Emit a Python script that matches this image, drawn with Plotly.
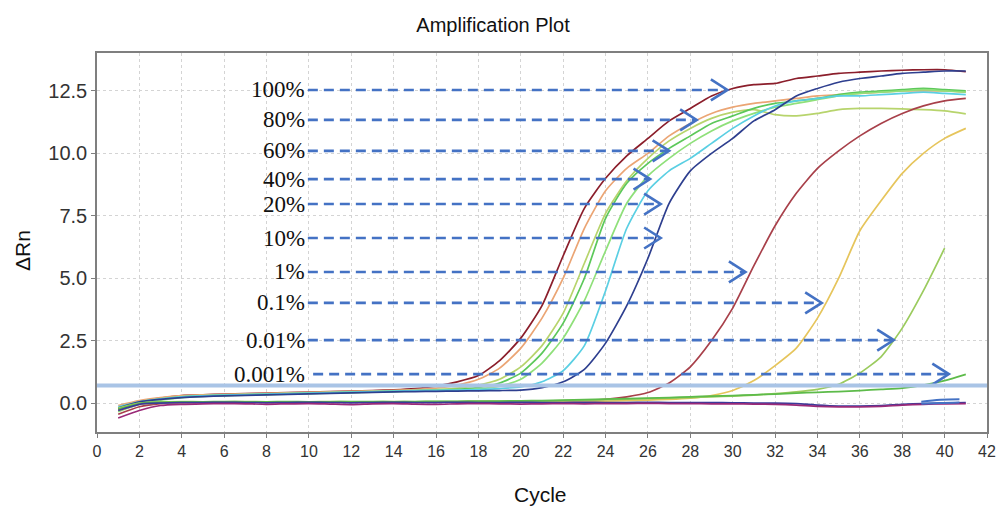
import plotly.graph_objects as go

# ---------------- data ----------------
cycles = list(range(1, 42))
cycles_40 = list(range(1, 41))

curve_100 = [-0.25, 0.05, 0.2, 0.3, 0.33, 0.36, 0.38, 0.4, 0.42, 0.44, 0.46, 0.48, 0.5, 0.53, 0.58, 0.68,
             0.85, 1.1, 1.7, 2.6, 3.9, 5.9, 7.8, 9.0, 9.9, 10.6, 11.3, 11.8, 12.3, 12.6, 12.75, 12.8,
             13.0, 13.1, 13.2, 13.25, 13.3, 13.33, 13.35, 13.35, 13.27]
curve_80 = [-0.1, 0.1, 0.22, 0.3, 0.33, 0.35, 0.37, 0.39, 0.41, 0.43, 0.45, 0.47, 0.49, 0.51, 0.54, 0.6,
            0.72, 0.95, 1.4, 2.2, 3.4, 5.0, 7.0, 8.5, 9.4, 10.0, 10.7, 11.2, 11.6, 11.85, 12.0, 12.1,
            12.2, 12.3, 12.35, 12.4, 12.45, 12.5, 12.5, 12.5, 12.45]
curve_60 = [-0.2, 0.05, 0.18, 0.26, 0.3, 0.33, 0.35, 0.37, 0.39, 0.41, 0.43, 0.45, 0.47, 0.49, 0.51, 0.54,
            0.6, 0.72, 0.95, 1.45, 2.3, 3.6, 5.6, 7.6, 8.9, 9.8, 10.5, 11.0, 11.4, 11.65, 11.75, 11.55,
            11.5, 11.6, 11.75, 11.8, 11.8, 11.78, 11.75, 11.7, 11.58]
curve_40 = [-0.3, 0.0, 0.15, 0.24, 0.28, 0.31, 0.33, 0.35, 0.37, 0.39, 0.41, 0.43, 0.45, 0.47, 0.49, 0.51,
            0.55, 0.62, 0.8, 1.2, 2.0, 3.2, 5.0, 7.4, 8.8, 9.6, 10.2, 10.7, 11.2, 11.5, 11.8, 12.0,
            12.1, 12.2, 12.35, 12.45, 12.5, 12.55, 12.6, 12.55, 12.5]
curve_20a = [-0.35, -0.05, 0.12, 0.22, 0.27, 0.3, 0.32, 0.34, 0.36, 0.38, 0.4, 0.42, 0.44, 0.46, 0.48, 0.5,
             0.52, 0.57, 0.68, 0.95, 1.6, 2.6, 4.1, 6.1, 8.0, 9.1, 9.8, 10.4, 10.9, 11.3, 11.6, 11.85,
             12.0, 12.15, 12.3, 12.4, 12.45, 12.5, 12.55, 12.5, 12.45]
curve_20b = [-0.15, 0.05, 0.17, 0.25, 0.29, 0.32, 0.34, 0.36, 0.38, 0.4, 0.42, 0.44, 0.46, 0.48, 0.5, 0.51,
             0.52, 0.54, 0.58, 0.65, 0.85, 1.3, 2.3, 4.5, 7.0, 8.5, 9.3, 9.8, 10.4, 11.0, 11.5, 11.9,
             12.1, 12.2, 12.3, 12.3, 12.35, 12.4, 12.45, 12.4, 12.35]
curve_10 = [-0.2, 0.05, 0.15, 0.22, 0.26, 0.29, 0.31, 0.33, 0.35, 0.37, 0.39, 0.41, 0.43, 0.45, 0.46, 0.47,
            0.48, 0.49, 0.5, 0.52, 0.62, 0.85, 1.35, 2.4, 3.9, 5.8, 8.0, 9.3, 10.0, 10.6, 11.3, 11.75,
            12.3, 12.6, 12.85, 13.0, 13.1, 13.2, 13.25, 13.3, 13.3]
curve_1 = [-0.45, -0.15, -0.02, 0.02, 0.03, 0.04, 0.04, 0.05, 0.04, 0.03, 0.04, 0.05, 0.04, 0.03, 0.04, 0.05,
           0.05, 0.06, 0.06, 0.07, 0.08, 0.09, 0.1, 0.15, 0.25, 0.42, 0.8, 1.45, 2.5, 3.8, 5.5, 7.1,
           8.4, 9.4, 10.1, 10.7, 11.2, 11.6, 11.9, 12.1, 12.2]
curve_01 = [-0.3, -0.05, 0.0, 0.02, 0.03, 0.03, 0.04, 0.03, 0.02, 0.03, 0.04, 0.04, 0.03, 0.04, 0.05, 0.04,
            0.04, 0.05, 0.05, 0.05, 0.05, 0.06, 0.07, 0.08, 0.1, 0.12, 0.15, 0.2, 0.3, 0.5, 0.9, 1.5,
            2.2, 3.4, 5.0, 6.9, 8.1, 9.2, 10.0, 10.6, 11.0]
curve_001 = [-0.2, 0.0, 0.05, 0.06, 0.05, 0.05, 0.06, 0.05, 0.04, 0.05, 0.06, 0.05, 0.05, 0.06, 0.05, 0.06,
             0.06, 0.06, 0.07, 0.07, 0.08, 0.1, 0.12, 0.14, 0.16, 0.18, 0.2, 0.22, 0.25, 0.28, 0.32, 0.38,
             0.45, 0.55, 0.75, 1.2, 1.85, 3.0, 4.5, 6.2]
curve_0001 = [-0.25, -0.02, 0.03, 0.05, 0.05, 0.06, 0.05, 0.05, 0.06, 0.05, 0.05, 0.06, 0.06, 0.05, 0.06, 0.07,
              0.07, 0.08, 0.08, 0.09, 0.1, 0.12, 0.14, 0.16, 0.18, 0.2, 0.22, 0.25, 0.28, 0.3, 0.33, 0.36,
              0.4, 0.43, 0.46, 0.5, 0.55, 0.6, 0.72, 0.9, 1.15]
curve_ntc_a = [-0.3, -0.05, 0.0, 0.02, 0.02, 0.03, 0.02, 0.01, 0.02, 0.03, 0.02, 0.01, 0.02, 0.03, 0.02, 0.02,
               0.03, 0.02, 0.02, 0.03, 0.02, 0.02, 0.03, 0.02, 0.02, 0.03, 0.02, 0.02, 0.02, 0.01, 0.0, 0.0,
               -0.02, -0.08, -0.12, -0.12, -0.1, -0.05, -0.02, 0.0, 0.02]
curve_ntc_b = [-0.6, -0.3, -0.1, -0.05, -0.03, -0.02, -0.03, -0.05, -0.03, -0.02, -0.04, -0.06, -0.03, -0.02,
               -0.04, -0.05, -0.03, -0.02, -0.03, -0.04, -0.03, -0.02, -0.03, -0.02, -0.02, -0.01, -0.02,
               -0.02, -0.03, -0.03, -0.04, -0.05, -0.08, -0.13, -0.15, -0.15, -0.13, -0.08, -0.05, -0.03, -0.02]

curve_series = [
    ("100%", cycles, curve_100, "#8B1E2B"),
    ("80%", cycles, curve_80, "#EBA574"),
    ("60%", cycles, curve_60, "#B7D46C"),
    ("40%", cycles, curve_40, "#5CC85A"),
    ("20% a", cycles, curve_20a, "#8FE07A"),
    ("20% b", cycles, curve_20b, "#5ACFE3"),
    ("10%", cycles, curve_10, "#2E3F8F"),
    ("1%", cycles, curve_1, "#A8404A"),
    ("0.1%", cycles, curve_01, "#E6C55C"),
    ("0.01%", cycles_40, curve_001, "#9BCB5E"),
    ("0.001%", cycles, curve_0001, "#5DBB4A"),
    ("NTC a", cycles, curve_ntc_a, "#3A3A9A"),
    ("NTC b", cycles, curve_ntc_b, "#9A2A78"),
]

threshold = 0.70

# annotation labels
labels = ["100%", "80%", "60%", "40%", "20%", "10%", "1%", "0.1%", "0.01%", "0.001%"]
label_y = [12.54, 11.34, 10.1, 8.97, 7.97, 6.61, 5.25, 4.01, 2.52, 1.16]
arrow_start = [9.95, 9.95, 9.95, 9.95, 9.95, 9.95, 9.95, 9.95, 9.95, 10.2]
arrow_tip = [29.75, 28.3, 27.0, 26.1, 26.6, 26.6, 30.6, 34.2, 37.6, 40.2]

# break mark near the end of the flat curves
squiggle_x = [38.9, 39.8, 40.7]
squiggle_top = [0.05, 0.13, 0.15]
squiggle_bot = [-0.03, 0.0, 0.02]

# ---------------- figure ----------------
ARROW = "#4472C4"
fig = go.Figure()

for name, xs, ys, col in curve_series:
    fig.add_trace(go.Scatter(x=xs, y=ys, mode="lines", name=name,
                             line=dict(color=col, width=1.7, shape="spline", smoothing=0.6),
                             hoverinfo="skip", showlegend=False))

# threshold
fig.add_shape(type="line", xref="paper", x0=0, x1=1, yref="y", y0=threshold, y1=threshold,
              line=dict(color="#A9C4E6", width=4), layer="above")

chev_dx, chev_dy = 0.78, 0.42
for lab, y, xs, xt in zip(labels, label_y, arrow_start, arrow_tip):
    fig.add_shape(type="line", x0=xs, x1=xt - 0.1, y0=y, y1=y, xref="x", yref="y",
                  line=dict(color=ARROW, width=2.6, dash="10px,6px"), layer="above")
    fig.add_trace(go.Scatter(x=[xt - chev_dx, xt, xt - chev_dx], y=[y + chev_dy, y, y - chev_dy],
                             mode="lines", line=dict(color=ARROW, width=2.6),
                             hoverinfo="skip", showlegend=False))
    fig.add_annotation(x=9.9, y=y, xref="x", yref="y", text=lab, showarrow=False,
                       xanchor="right", yanchor="middle",
                       font=dict(family="Liberation Serif, Times New Roman, serif", size=23, color="#111111"))

for sy in (squiggle_top, squiggle_bot):
    fig.add_trace(go.Scatter(x=squiggle_x, y=sy, mode="lines",
                             line=dict(color=ARROW, width=2, shape="spline"),
                             hoverinfo="skip", showlegend=False))

SANS = "Liberation Sans, Arial, sans-serif"

fig.update_layout(
    width=997, height=512,
    margin=dict(l=97, r=10, t=53, b=80, autoexpand=False),
    paper_bgcolor="white", plot_bgcolor="white",
    title=dict(text="Amplification Plot", x=0.4945, xref="container", xanchor="center",
               y=0.951, yref="container", yanchor="middle",
               font=dict(family=SANS, size=20, color="#111111")),
    showlegend=False,
)

fig.update_xaxes(range=[0, 42], tickmode="linear", tick0=0, dtick=2, automargin=False,
                 showgrid=True, gridcolor="#D4D4D4", griddash="dot", gridwidth=1,
                 showline=True, linecolor="#7F7F7F", linewidth=1.5, mirror=True,
                 ticks="outside", ticklen=4, tickcolor="#7F7F7F",
                 tickfont=dict(family=SANS, size=16, color="#333333"), zeroline=False)
fig.update_yaxes(range=[-1.16, 14.02], tickmode="array", automargin=False,
                 tickvals=[0, 2.5, 5, 7.5, 10, 12.5],
                 ticktext=["0.0", "2.5", "5.0", "7.5", "10.0", "12.5"],
                 showgrid=True, gridcolor="#D4D4D4", griddash="dot", gridwidth=1,
                 showline=True, linecolor="#7F7F7F", linewidth=1.5, mirror=True,
                 ticks="outside", ticklen=4, tickcolor="#7F7F7F",
                 tickfont=dict(family=SANS, size=20, color="#333333"),
                 zeroline=False)

fig.add_annotation(text="Cycle", xref="paper", yref="paper", x=0.498, y=-0.166,
                   showarrow=False, xanchor="center", yanchor="middle",
                   font=dict(family=SANS, size=21, color="#111111"))
fig.add_annotation(text="ΔRn", xref="paper", yref="paper", x=-0.0843, y=0.48,
                   showarrow=False, xanchor="center", yanchor="middle", textangle=-90,
                   font=dict(family=SANS, size=21, color="#111111"))

# remove the default page margin so the 997x512 figure fills the window exactly
fig.write_html("out.html", config={"displayModeBar": False},
               post_script="document.body.style.margin='0';")
